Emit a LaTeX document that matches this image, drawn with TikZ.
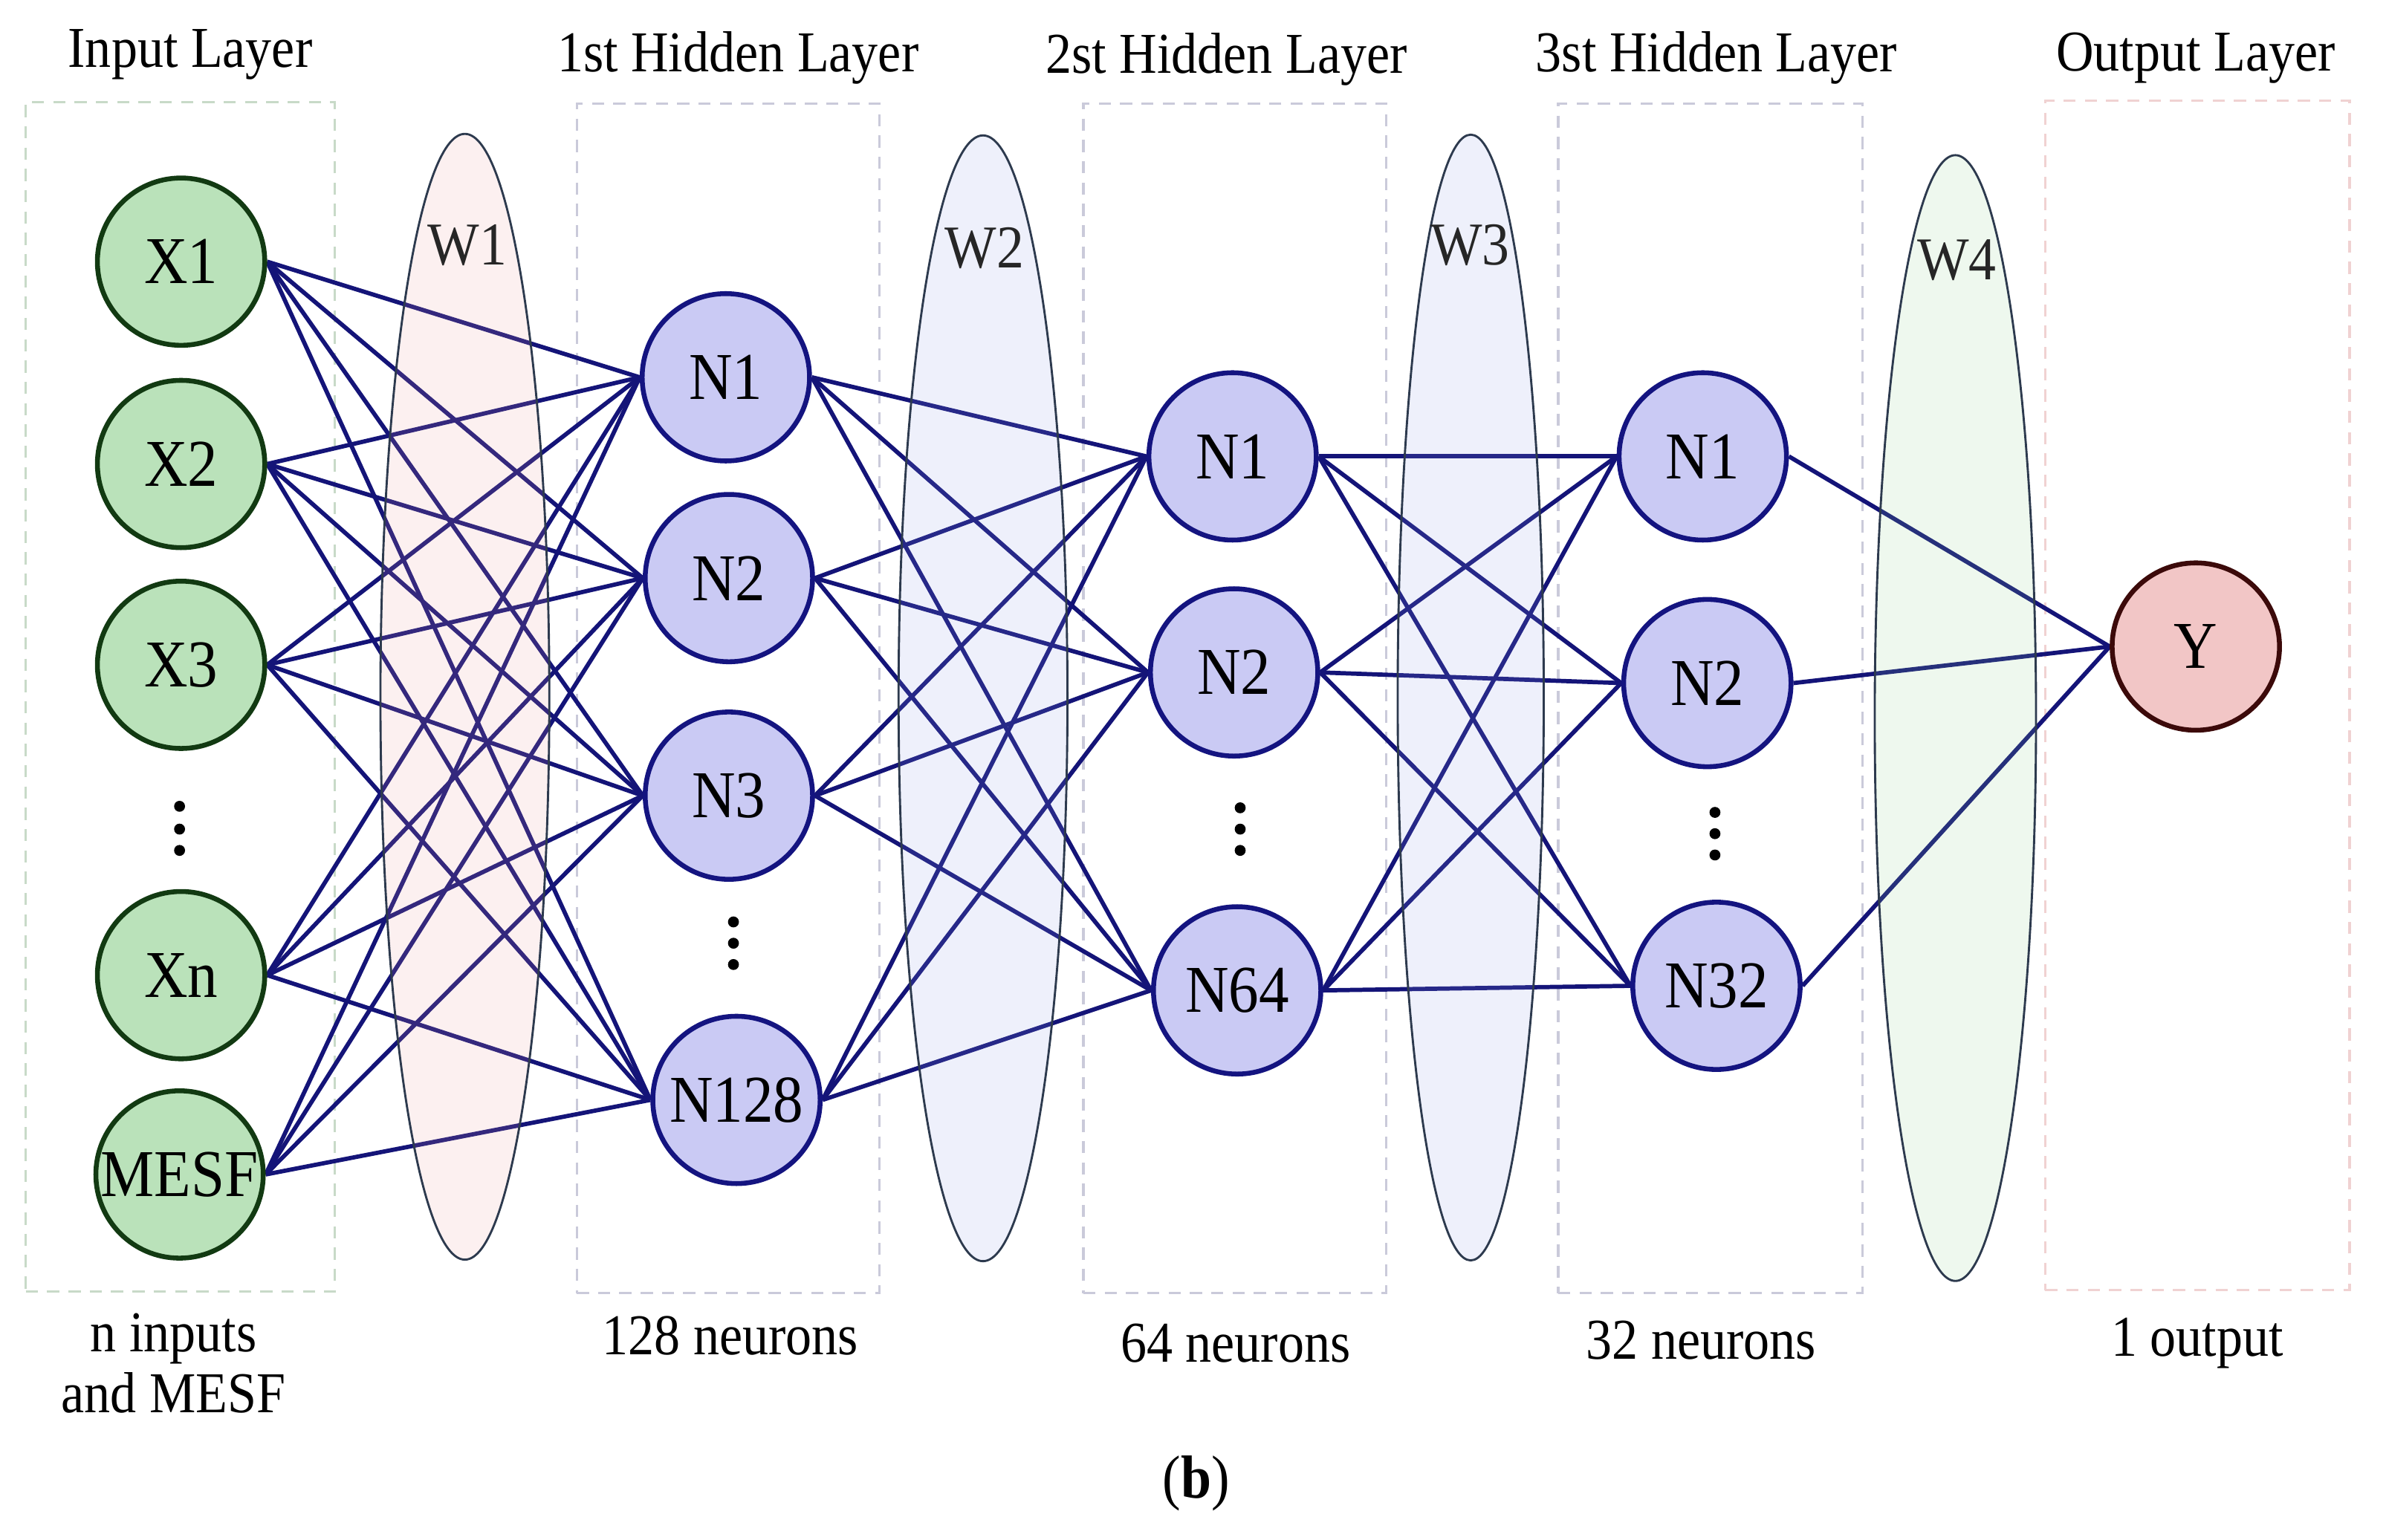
\documentclass[tikz,border=0pt]{standalone}
\usepackage{fontspec}
\setmainfont{Liberation Serif}[FakeStretch=0.9]
\usetikzlibrary{shapes.geometric}
\pgfdeclarelayer{boxes}
\pgfdeclarelayer{edges}
\pgfdeclarelayer{ells}
\pgfsetlayers{boxes,edges,ells,main}
\definecolor{edgec}{RGB}{20,20,120}
\definecolor{ingreen}{RGB}{186,226,186}
\definecolor{indark}{RGB}{18,58,18}
\definecolor{hidfill}{RGB}{202,202,244}
\definecolor{hiddraw}{RGB}{20,20,128}
\definecolor{outfill}{RGB}{242,198,198}
\definecolor{outdraw}{RGB}{60,10,10}
\definecolor{boxgreen}{RGB}{200,218,200}
\definecolor{boxgray}{RGB}{202,202,218}
\definecolor{boxpink}{RGB}{240,210,210}
\definecolor{ellline}{RGB}{45,58,78}
\definecolor{wonefill}{RGB}{235,155,155}
\definecolor{wtwofill}{RGB}{142,155,228}
\definecolor{wfourfill}{RGB}{142,208,142}
\begin{document}
\begin{tikzpicture}[x=0.5pt,y=-0.5pt,
  neuron/.style={circle, minimum size=55pt, inner sep=0pt, line width=1.6pt,
    font=\fontsize{22}{24}\selectfont},
  innode/.style={neuron, fill=ingreen, draw=indark},
  hidnode/.style={neuron, fill=hidfill, draw=hiddraw},
  outnode/.style={neuron, fill=outfill, draw=outdraw},
  conn/.style={draw=edgec, line width=1.4pt},
  layerbox/.style={rectangle, inner sep=0pt, line width=0.8pt,
    dash pattern=on 4pt off 3pt, minimum height=391pt},
  wshape/.style={ellipse, inner sep=0pt, draw=ellline, line width=0.7pt,
    fill opacity=0.15, minimum height=370pt},
  wlabel/.style={font=\fontsize{20}{22}\selectfont, text=black!85},
  title/.style={font=\fontsize{19}{22}\selectfont},
  dotfill/.style={fill=black}
]
\useasboundingbox (0,0) rectangle (1568,1012);

% titles
\node[title] (tin) at (125,36) {Input Layer};
\node[title] (th1) at (485,38) {1st Hidden Layer};
\node[title] (th2) at (806,39) {2st Hidden Layer};
\node[title] (th3) at (1128,38) {3st Hidden Layer};
\node[title] (tout) at (1443,38) {Output Layer};

% layer boxes
\begin{pgfonlayer}{boxes}
\node[layerbox, draw=boxgreen, minimum width=101.5pt] (bin) at (118.5,458) {};
\node[layerbox, draw=boxgray, minimum width=99.5pt] (bh1) at (478.5,459) {};
\node[layerbox, draw=boxgray, minimum width=99.5pt] (bh2) at (811.5,459) {};
\node[layerbox, draw=boxgray, minimum width=100pt] (bh3) at (1124,459) {};
\node[layerbox, draw=boxpink, minimum width=100pt] (bout) at (1444,457) {};
\end{pgfonlayer}

% input nodes
\node[innode] (x1) at (119,172) {X1};
\node[innode] (x2) at (119,305) {X2};
\node[innode] (x3) at (119,437) {X3};
\node[innode] (xn) at (119,641) {Xn};
\node[innode] (mesf) at (118,772) {MESF};

% hidden 1
\node[hidnode] (a1) at (477,248) {N1};
\node[hidnode] (a2) at (479,380) {N2};
\node[hidnode] (a3) at (479,523) {N3};
\node[hidnode] (a4) at (484,723) {N128};

% hidden 2
\node[hidnode] (b1) at (810,300) {N1};
\node[hidnode] (b2) at (811,442) {N2};
\node[hidnode] (b3) at (813,651) {N64};

% hidden 3
\node[hidnode] (c1) at (1119,300) {N1};
\node[hidnode] (c2) at (1122,449) {N2};
\node[hidnode] (c3) at (1128,648) {N32};

% output
\node[outnode] (y) at (1443,425) {Y};

% vertical dots
\foreach \px/\py in {118/530, 118/545, 118/559, 482/606, 482/620, 482/634,
                     815/531, 815/545, 815/559, 1127/534, 1127/548, 1127/562}
  \fill[dotfill] (\px,\py) circle (1.8pt);

% connections
\begin{pgfonlayer}{edges}
\foreach \s in {x1,x2,x3,xn,mesf}
  \foreach \t in {a1,a2,a3,a4}
    \draw[conn] (\s.east) -- (\t.west);
\foreach \s in {a1,a2,a3,a4}
  \foreach \t in {b1,b2,b3}
    \draw[conn] (\s.east) -- (\t.west);
\foreach \s in {b1,b2,b3}
  \foreach \t in {c1,c2,c3}
    \draw[conn] (\s.east) -- (\t.west);
\foreach \s in {c1,c2,c3}
  \draw[conn] (\s.east) -- (y.west);
\end{pgfonlayer}

% weight ellipses
\begin{pgfonlayer}{ells}
\node[wshape, fill=wonefill, minimum width=55.5pt] (w1) at (305.5,458) {};
\node[wshape, fill=wtwofill, minimum width=55.5pt] (w2) at (646,459) {};
\node[wshape, fill=wtwofill, minimum width=48pt] (w3) at (966.5,458.5) {};
\node[wshape, fill=wfourfill, minimum width=53pt] (w4) at (1285,472) {};
\end{pgfonlayer}
\node[wlabel] (lw1) at (307,161) {W1};
\node[wlabel] (lw2) at (647,163) {W2};
\node[wlabel] (lw3) at (966,161) {W3};
\node[wlabel] (lw4) at (1286,171) {W4};

% bottom labels
\node[title, align=center] (nin) at (114,896) {n inputs\\[-2pt]and MESF};
\node[title] (n128) at (480,878) {128 neurons};
\node[title] (n64) at (812,883) {64 neurons};
\node[title] (n32) at (1118,881) {32 neurons};
\node[title] (n1) at (1444,883) {1 output};
\node[font=\fontsize{20}{22}\selectfont] (cap) at (786,975) {(\textbf{b})};
\end{tikzpicture}
\end{document}
